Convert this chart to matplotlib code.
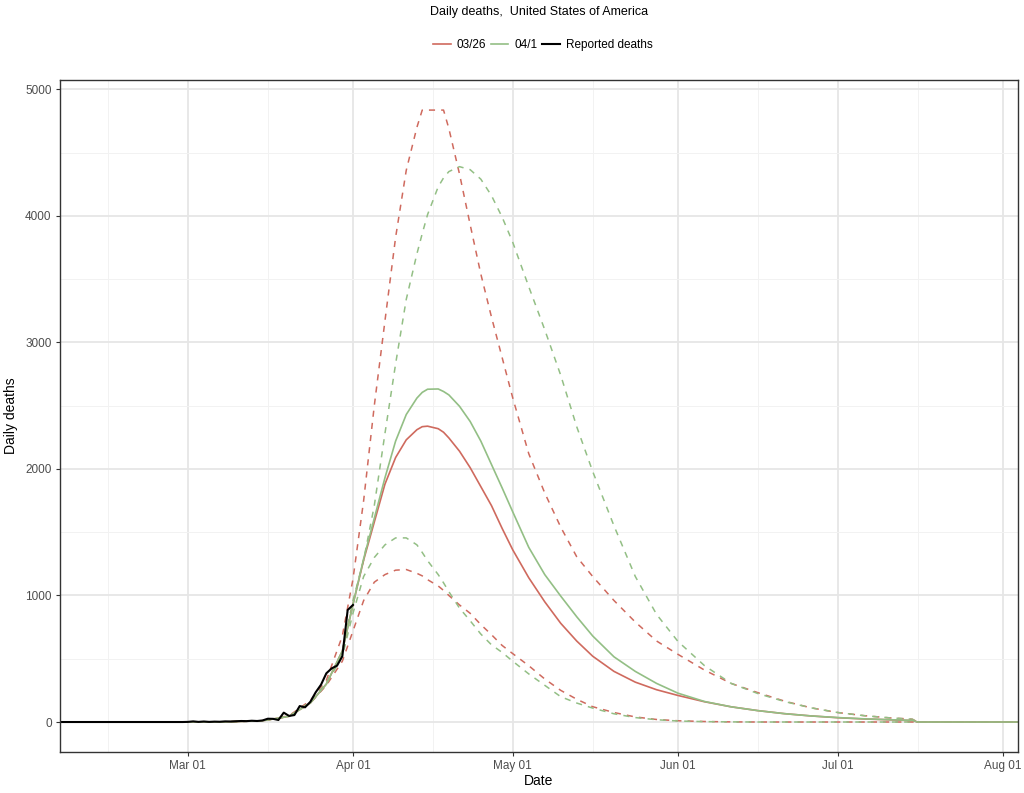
import pandas as pd
import matplotlib
matplotlib.use("Agg")
import matplotlib.pyplot as plt
import matplotlib.dates as mdates

plt.rcParams['font.family'] = ['Liberation Sans', 'DejaVu Sans']

# model dates
model_dates = ["2020-02-06", "2020-03-08", "2020-03-15", "2020-03-20", "2020-03-24",
               "2020-03-27", "2020-03-30", "2020-04-01", "2020-04-03", "2020-04-05",
               "2020-04-07", "2020-04-09", "2020-04-11", "2020-04-13", "2020-04-14",
               "2020-04-15", "2020-04-17", "2020-04-18", "2020-04-19", "2020-04-21",
               "2020-04-23", "2020-04-25", "2020-04-27", "2020-04-29", "2020-05-01",
               "2020-05-04", "2020-05-07", "2020-05-10", "2020-05-13", "2020-05-16",
               "2020-05-20", "2020-05-24", "2020-05-28", "2020-06-01", "2020-06-06",
               "2020-06-11", "2020-06-16", "2020-06-21", "2020-06-26", "2020-07-01",
               "2020-07-06", "2020-07-11", "2020-07-14", "2020-07-15", "2020-07-16",
               "2020-07-22", "2020-07-29", "2020-08-05"]

# 03/26 projection: mean, lower, upper
m0326_mid = [0, 1, 10, 45, 150, 300, 560, 930, 1280, 1580,
             1880, 2090, 2230, 2310, 2334, 2338, 2318, 2290, 2245, 2140,
             2010, 1860, 1710, 1530, 1360, 1140, 950, 780, 640, 520,
             400, 315, 255, 210, 160, 120, 90, 66, 48, 34,
             24, 17, 13, 12, 0, 0, 0, 0]
m0326_lo = [0, 1, 10, 45, 150, 290, 480, 720, 960, 1105,
            1165, 1200, 1205, 1175, 1155, 1125, 1075, 1040, 1000, 925,
            859, 770, 690, 605, 540, 445, 340, 250, 180, 121,
            75, 40, 20, 10, 4, 1, 0, 0, 0, 0,
            0, 0, 0, 0, 0, 0, 0, 0]
m0326_hi = [0, 1, 10, 50, 170, 330, 680, 1130, 1750, 2500,
            3170, 3830, 4360, 4700, 4836, 4836, 4836, 4836, 4690, 4330,
            3930, 3540, 3200, 2880, 2560, 2120, 1810, 1540, 1306, 1150,
            960, 790, 640, 535, 410, 305, 232, 165, 112, 75,
            50, 32, 25, 22, 0, 0, 0, 0]

# 04/1 projection: mean, lower, upper
m0401_mid = [0, 1, 10, 45, 150, 300, 560, 930, 1290, 1610,
             1930, 2220, 2430, 2560, 2605, 2630, 2632, 2612, 2585, 2495,
             2375, 2220, 2035, 1850, 1660, 1380, 1165, 995, 832, 680,
             515, 400, 305, 228, 162, 120, 90, 66, 48, 35,
             25, 18, 14, 13, 0, 0, 0, 0]
m0401_lo = [0, 1, 10, 45, 150, 300, 520, 860, 1150, 1300,
            1400, 1455, 1455, 1400, 1340, 1275, 1165, 1100, 1030, 900,
            800, 695, 610, 550, 480, 380, 290, 200, 150, 110,
            65, 35, 18, 8, 3, 1, 0, 0, 0, 0,
            0, 0, 0, 0, 0, 0, 0, 0]
m0401_hi = [0, 1, 10, 45, 160, 310, 560, 960, 1280, 1710,
            2280, 2830, 3340, 3700, 3860, 4010, 4230, 4300, 4350, 4389,
            4365, 4290, 4160, 3990, 3790, 3440, 3100, 2740, 2334, 1980,
            1550, 1150, 850, 637, 445, 305, 225, 162, 112, 75,
            50, 32, 25, 22, 0, 0, 0, 0]

# reported daily deaths, Feb 06 - Apr 01
reported_start = "2020-02-06"
reported = [0] * 24 + [
    1, 5, 1, 4, 1, 3, 2, 5, 4, 6,
    8, 7, 10, 8, 12, 26, 25, 16, 74, 48,
    55, 126, 116, 160, 235, 295, 385, 424, 445, 520,
    885, 925]

red = "#CF6A5E"
green = "#93BF85"

md = pd.to_datetime(model_dates)
rd = pd.date_range(reported_start, periods=len(reported), freq="D")

fig = plt.figure(figsize=(10.24, 7.93), dpi=100)
ax = fig.add_axes([0.0586, 0.0517, 0.9355, 0.8473])

dash = (0, (4, 4))
ax.plot(md, m0326_lo, color=red, lw=1.1, linestyle=dash)
ax.plot(md, m0326_hi, color=red, lw=1.1, linestyle=dash)
ax.plot(md, m0401_lo, color=green, lw=1.1, linestyle=dash)
ax.plot(md, m0401_hi, color=green, lw=1.1, linestyle=dash)
ax.plot(md, m0326_mid, color=red, lw=1.2, label="03/26")
ax.plot(md, m0401_mid, color=green, lw=1.2, label="04/1")
ax.plot(rd, reported, color="black", lw=1.5, label="Reported deaths")

ax.set_xlim(pd.Timestamp("2020-02-06"), pd.Timestamp("2020-08-03 20:00"))
ax.set_ylim(-237, 5073)
ax.set_yticks([0, 1000, 2000, 3000, 4000, 5000])
ax.set_yticks([500, 1500, 2500, 3500, 4500], minor=True)
ax.xaxis.set_major_locator(mdates.MonthLocator(bymonthday=1))
ax.xaxis.set_major_formatter(mdates.DateFormatter("%b %d"))
ax.set_xticks(pd.to_datetime(["2020-02-15", "2020-03-16", "2020-04-16", "2020-05-16",
                              "2020-06-16", "2020-07-16"]), minor=True)

ax.grid(which="major", color="#E6E6E6", lw=1.3)
ax.grid(which="minor", color="#F2F2F2", lw=0.7)
ax.set_axisbelow(True)
for s in ax.spines.values():
    s.set_color("#333333")
    s.set_linewidth(1.0)
ax.tick_params(which="major", length=3, width=0.8, color="#333333",
               labelsize=8.5, labelcolor="#4D4D4D", pad=3)
ax.tick_params(which="minor", length=0)

ax.set_xlabel("Date", fontsize=10, labelpad=1)
ax.set_ylabel("Daily deaths", fontsize=10, labelpad=5)

fig.text(0.5264, 0.985, "Daily deaths,  United States of America",
         ha="center", va="center", fontsize=9)
fig.legend(loc="center", bbox_to_anchor=(0.530, 0.943), ncol=3, frameon=False,
           fontsize=8.5, handlelength=1.5, handletextpad=0.5, columnspacing=0.4)

fig.savefig("out.png", dpi=100)
